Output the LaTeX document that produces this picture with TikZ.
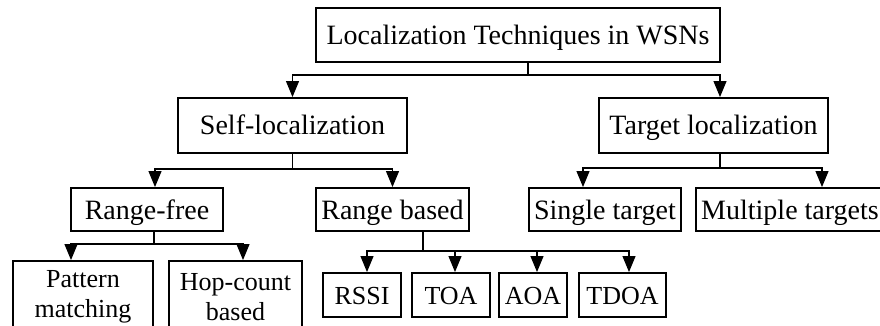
\documentclass[tikz,border=0pt]{standalone}
\usepackage{fontspec}
\setmainfont{Liberation Serif}
\usetikzlibrary{arrows.meta}
\tikzset{
  box/.style={draw, line width=1.9pt, inner sep=0pt, align=center},
  big/.style={box, font=\fontsize{28}{32}\selectfont, text height=19pt, text depth=0pt},
  small/.style={box, font=\fontsize{26}{30}\selectfont},
  one/.style={text height=18pt, text depth=0pt},
  conn/.style={line width=1.1pt},
  arr/.style={conn, -{Triangle[length=16pt,width=13pt]}}
}
\begin{document}
\begin{tikzpicture}[x=1pt,y=-1pt]
\clip (0,0) rectangle (880,326);
\fill[white] (0,0) rectangle (880,326);
% nodes
\node[big, minimum width=404, minimum height=54] (top) at (518,35) {Localization Techniques in WSNs};
\node[big, minimum width=229, minimum height=55] (self) at (292.5,125.5) {Self-localization};
\node[big, minimum width=229, minimum height=55] (target) at (713.5,125.5) {Target localization};
\node[big, minimum width=152, minimum height=43] (rfree) at (147,209.5) {Range-free};
\node[big, minimum width=153, minimum height=43] (rbased) at (392.5,209.5) {Range based};
\node[big, minimum width=152, minimum height=43] (single) at (605,209.5) {Single target};
\node[big, minimum width=188, minimum height=43] (multi) at (790,209.5) {Multiple targets};
\node[small, minimum width=140, minimum height=72] (pattern) at (83,297) {Pattern\\matching};
\node[small, minimum width=133, minimum height=72] (hop) at (235.5,297) {Hop-count\\based};
\node[small, one, minimum width=78, minimum height=44] (rssi) at (362,295) {RSSI};
\node[small, one, minimum width=78, minimum height=44] (toa) at (451,295) {TOA};
\node[small, one, minimum width=68, minimum height=44] (aoa) at (533,295) {AOA};
\node[small, one, minimum width=87, minimum height=44] (tdoa) at (622.5,295) {TDOA};
% junctions
\coordinate (j0) at (528,75);
\coordinate (j1) at (292.5,169);
\coordinate (j2) at (720,168);
\coordinate (j3) at (154,244);
\coordinate (j4) at (423,251);
% top level
\draw[conn] (top.south -| j0) -- (j0);
\draw[arr] (j0) -| (self.north);
\draw[arr] (j0) -| ([xshift=6.5pt]target.north);
% self-localization
\draw[conn] (self.south) -- (j1);
\draw[arr] (j1) -| ([xshift=8pt]rfree.north);
\draw[arr] (j1) -| (rbased.north);
% target localization
\draw[conn] ([xshift=6.5pt]target.south) -- (j2);
\draw[arr] (j2) -| ([xshift=-22pt]single.north);
\draw[arr] (j2) -| ([xshift=32pt]multi.north);
% range-free
\draw[conn] ([xshift=7pt]rfree.south) -- (j3);
\draw[arr] (j3) -| ([xshift=-12pt]pattern.north);
\draw[arr] (j3) -| ([xshift=7.5pt]hop.north);
% range based
\draw[conn] ([xshift=30.5pt]rbased.south) -- (j4);
\draw[arr] (j4) -| ([xshift=5pt]rssi.north);
\draw[arr] (j4) -| ([xshift=4pt]toa.north);
\draw[arr] (j4) -| ([xshift=4pt]aoa.north);
\draw[arr] (j4) -| ([xshift=6.5pt]tdoa.north);
\end{tikzpicture}
\end{document}
